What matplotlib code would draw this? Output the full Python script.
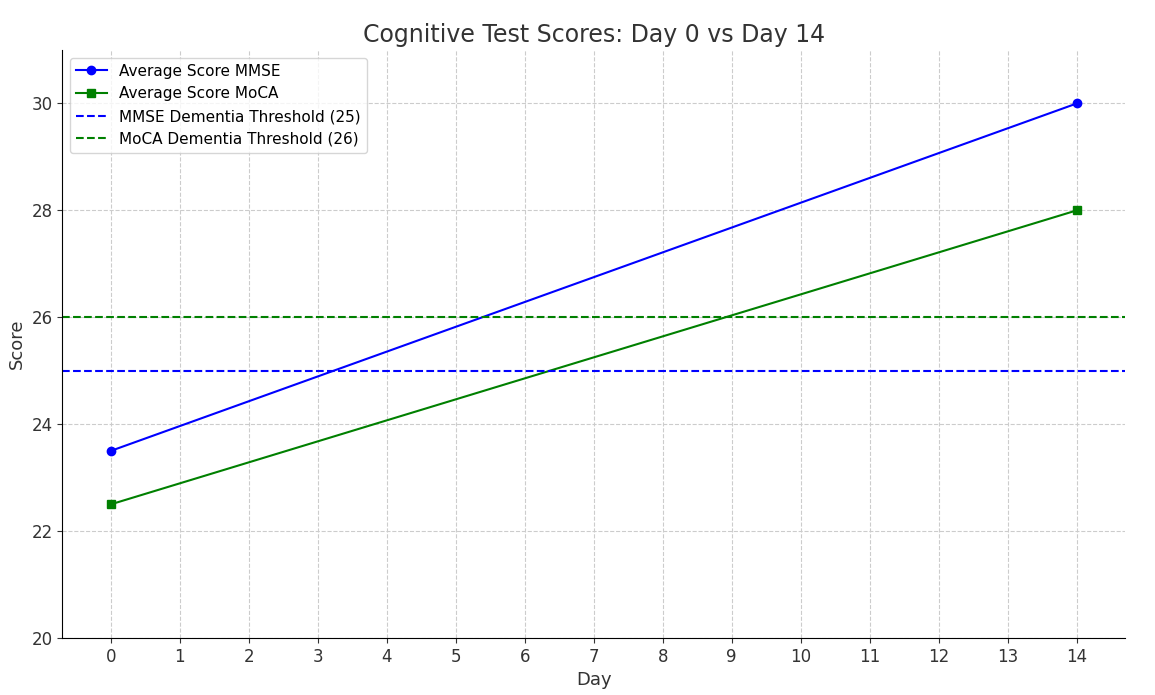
import matplotlib as mpl
mpl.use('Agg')
import matplotlib.pyplot as plt

days = [0, 14]
mmse = [23.5, 30]
moca = [22.5, 28]
mmse_threshold = 25
moca_threshold = 26

fig = plt.figure(figsize=(11.55, 6.95), dpi=100)
ax = fig.add_axes([0.054, 0.082, 0.920, 0.846])

ax.plot(days, mmse, color='blue', marker='o', label='Average Score MMSE')
ax.plot(days, moca, color='green', marker='s', label='Average Score MoCA')
ax.axhline(mmse_threshold, color='blue', linestyle='--', label='MMSE Dementia Threshold (25)')
ax.axhline(moca_threshold, color='green', linestyle='--', label='MoCA Dementia Threshold (26)')

ax.set_xlim(-0.7, 14.7)
ax.set_ylim(20, 31)
ax.set_xticks(range(0, 15))
ax.set_yticks(range(20, 31, 2))
ax.grid(True, linestyle='--', color='#cccccc')
ax.spines['top'].set_visible(False)
ax.spines['right'].set_visible(False)
ax.tick_params(labelsize=12, colors='#333333')

ax.set_title('Cognitive Test Scores: Day 0 vs Day 14', fontsize=17, color='#333333')
ax.set_xlabel('Day', fontsize=13, color='#333333')
ax.set_ylabel('Score', fontsize=13, color='#333333')
ax.legend(loc='upper left', fontsize=11)

plt.savefig('out.png', dpi=100)
